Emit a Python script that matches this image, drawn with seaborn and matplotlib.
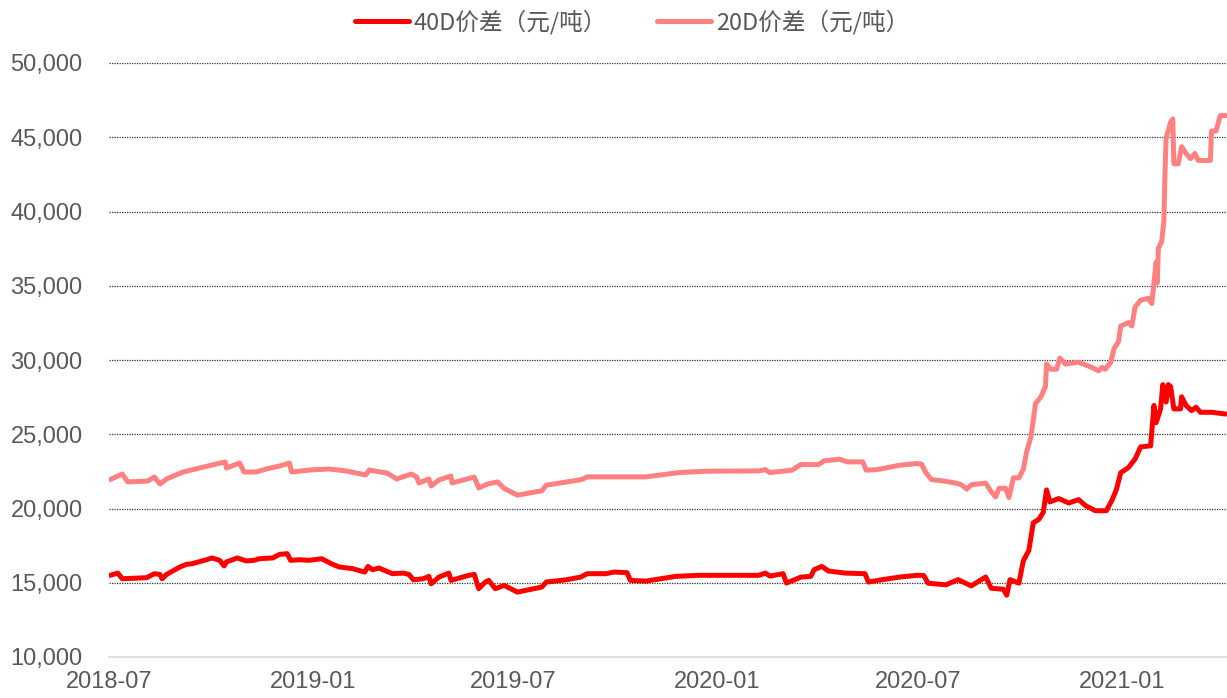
import matplotlib
matplotlib.use("Agg")
import matplotlib.pyplot as plt
import matplotlib.dates as mdates
from matplotlib.ticker import FuncFormatter, MultipleLocator
import pandas as pd
import seaborn as sns

# 40D spread (yuan/ton)
dates_40d = ["2018-07-02", "2018-07-09", "2018-07-13", "2018-08-04", "2018-08-11", "2018-08-16",
             "2018-08-18", "2018-08-22", "2018-09-03", "2018-09-09", "2018-09-14", "2018-09-27",
             "2018-10-02", "2018-10-09", "2018-10-13", "2018-10-15", "2018-10-25", "2018-11-02",
             "2018-11-09", "2018-11-14", "2018-11-26", "2018-12-02", "2018-12-09", "2018-12-12",
             "2018-12-20", "2018-12-29", "2019-01-09", "2019-01-19", "2019-01-25", "2019-02-06",
             "2019-02-17", "2019-02-20", "2019-02-24", "2019-03-02", "2019-03-14", "2019-03-24",
             "2019-03-29", "2019-04-02", "2019-04-11", "2019-04-16", "2019-04-18", "2019-04-25",
             "2019-05-04", "2019-05-06", "2019-05-22", "2019-05-27", "2019-05-31", "2019-06-06",
             "2019-06-09", "2019-06-15", "2019-06-23", "2019-07-05", "2019-07-27", "2019-07-31",
             "2019-08-18", "2019-08-31", "2019-09-06", "2019-09-23", "2019-09-30", "2019-10-12",
             "2019-10-15", "2019-10-29", "2019-11-25", "2019-12-16", "2020-02-08", "2020-02-14",
             "2020-02-18", "2020-03-01", "2020-03-04", "2020-03-10", "2020-03-17", "2020-03-26",
             "2020-03-29", "2020-04-05", "2020-04-11", "2020-04-26", "2020-05-14", "2020-05-17",
             "2020-05-29", "2020-06-14", "2020-06-30", "2020-07-06", "2020-07-10", "2020-07-26",
             "2020-08-06", "2020-08-18", "2020-08-31", "2020-09-05", "2020-09-16", "2020-09-19",
             "2020-09-22", "2020-09-30", "2020-10-04", "2020-10-09", "2020-10-13", "2020-10-18",
             "2020-10-22", "2020-10-25", "2020-10-28", "2020-11-05", "2020-11-14", "2020-11-23",
             "2020-11-29", "2020-12-08", "2020-12-18", "2020-12-23", "2020-12-27", "2020-12-31",
             "2021-01-07", "2021-01-13", "2021-01-18", "2021-01-27", "2021-01-30", "2021-02-01",
             "2021-02-05", "2021-02-07", "2021-02-10", "2021-02-12", "2021-02-14", "2021-02-17",
             "2021-02-23", "2021-02-24", "2021-02-28", "2021-03-05", "2021-03-09", "2021-03-13",
             "2021-03-23", "2021-04-05"]
spread_40d = [15500, 15650, 15270, 15340, 15610, 15560,
              15270, 15560, 16060, 16240, 16280, 16550,
              16670, 16510, 16130, 16400, 16670, 16470,
              16510, 16620, 16670, 16910, 16960, 16510,
              16550, 16510, 16620, 16240, 16060, 15950,
              15720, 16100, 15880, 15990, 15610, 15650,
              15560, 15200, 15270, 15430, 14930, 15380,
              15650, 15160, 15500, 15560, 14600, 15050,
              15160, 14600, 14820, 14370, 14710, 15050,
              15200, 15380, 15610, 15610, 15720, 15680,
              15160, 15110, 15430, 15500, 15500, 15650,
              15450, 15610, 14980, 15160, 15380, 15430,
              15880, 16100, 15790, 15650, 15610, 15050,
              15200, 15380, 15500, 15490, 14970, 14860,
              15210, 14790, 15390, 14630, 14560, 14160,
              15210, 14970, 16480, 17180, 19040, 19270,
              19740, 21250, 20440, 20670, 20370, 20600,
              20200, 19850, 19850, 20550, 21250, 22410,
              22760, 23340, 24150, 24220, 26940, 25780,
              26710, 28340, 27170, 28340, 28220, 26710,
              26710, 27520, 26940, 26590, 26820, 26480,
              26480, 26360]

# 20D spread (yuan/ton)
dates_20d = ["2018-07-02", "2018-07-13", "2018-07-18", "2018-08-05", "2018-08-11", "2018-08-16",
             "2018-08-22", "2018-09-06", "2018-09-21", "2018-10-06", "2018-10-14", "2018-10-15",
             "2018-10-27", "2018-10-31", "2018-11-11", "2018-11-20", "2018-12-02", "2018-12-11",
             "2018-12-13", "2018-12-29", "2019-01-16", "2019-01-31", "2019-02-18", "2019-02-21",
             "2019-03-09", "2019-03-18", "2019-03-31", "2019-04-05", "2019-04-07", "2019-04-16",
             "2019-04-18", "2019-04-25", "2019-05-06", "2019-05-07", "2019-05-27", "2019-05-31",
             "2019-06-08", "2019-06-17", "2019-06-23", "2019-07-05", "2019-07-27", "2019-07-31",
             "2019-09-01", "2019-09-06", "2019-10-02", "2019-10-29", "2019-11-28", "2019-12-22",
             "2020-02-08", "2020-02-14", "2020-02-18", "2020-03-09", "2020-03-17", "2020-04-02",
             "2020-04-07", "2020-04-21", "2020-04-28", "2020-05-12", "2020-05-15", "2020-05-25",
             "2020-06-14", "2020-06-30", "2020-07-04", "2020-07-08", "2020-07-13", "2020-07-26",
             "2020-08-04", "2020-08-09", "2020-08-14", "2020-08-18", "2020-08-31", "2020-09-05",
             "2020-09-09", "2020-09-12", "2020-09-18", "2020-09-21", "2020-09-25", "2020-09-30",
             "2020-10-04", "2020-10-07", "2020-10-11", "2020-10-15", "2020-10-20", "2020-10-24",
             "2020-10-25", "2020-10-29", "2020-11-03", "2020-11-06", "2020-11-11", "2020-11-23",
             "2020-12-05", "2020-12-11", "2020-12-14", "2020-12-17", "2020-12-22", "2020-12-25",
             "2020-12-29", "2020-12-31", "2021-01-07", "2021-01-10", "2021-01-13", "2021-01-18",
             "2021-01-25", "2021-01-28", "2021-01-30", "2021-02-01", "2021-02-02", "2021-02-03",
             "2021-02-06", "2021-02-08", "2021-02-09", "2021-02-10", "2021-02-14", "2021-02-16",
             "2021-02-17", "2021-02-21", "2021-02-24", "2021-02-28", "2021-03-04", "2021-03-08",
             "2021-03-11", "2021-03-22", "2021-03-23", "2021-03-27", "2021-03-31", "2021-04-05"]
spread_20d = [21950, 22320, 21790, 21850, 22120, 21650,
              21990, 22460, 22730, 23000, 23130, 22730,
              23060, 22460, 22460, 22660, 22860, 23060,
              22460, 22590, 22660, 22530, 22260, 22590,
              22390, 21990, 22320, 22120, 21720, 21990,
              21520, 21920, 22190, 21720, 22120, 21380,
              21650, 21790, 21350, 20900, 21190, 21570,
              21950, 22130, 22130, 22130, 22420, 22510,
              22530, 22620, 22420, 22580, 22960, 22960,
              23210, 23320, 23140, 23140, 22580, 22620,
              22910, 23030, 22990, 22410, 21950, 21830,
              21710, 21600, 21300, 21600, 21710, 21130,
              20780, 21360, 21360, 20740, 22060, 22060,
              22640, 23810, 24850, 27060, 27530, 28220,
              29730, 29380, 29380, 30130, 29730, 29850,
              29500, 29270, 29500, 29380, 29850, 30780,
              31240, 32290, 32520, 32290, 33570, 34030,
              34150, 33800, 35190, 36590, 35190, 37520,
              37980, 39380, 42630, 44950, 46000, 46230,
              43210, 43210, 44370, 43910, 43560, 43910,
              43440, 43440, 45420, 45420, 46460, 46460]

labels = ["40D价差（元/吨）", "20D价差（元/吨）"]
colors = ["#FF0000", "#FF8080"]

df = pd.concat([
    pd.DataFrame({"date": pd.to_datetime(dates_40d), "value": spread_40d, "series": labels[0]}),
    pd.DataFrame({"date": pd.to_datetime(dates_20d), "value": spread_20d, "series": labels[1]}),
])

sns.set_theme(style="white")
plt.rcParams['font.family'] = ['Liberation Sans', 'DejaVu Sans']

fig = plt.figure(figsize=(12.27, 6.98), dpi=100)
ax = fig.add_axes([109 / 1227, 41 / 698, 1118 / 1227, 594 / 698])

sns.lineplot(data=df, x="date", y="value", hue="series", hue_order=labels,
             palette=dict(zip(labels, colors)), linewidth=3.6, estimator=None,
             sort=False, legend=False, ax=ax)

ax.set_xlim(pd.Timestamp("2018-07-01"), pd.Timestamp("2021-04-06"))
ax.set_ylim(10000, 50000)
ax.yaxis.set_major_locator(MultipleLocator(5000))
ax.yaxis.set_major_formatter(FuncFormatter(lambda v, p: f"{v:,.0f}"))
ax.xaxis.set_major_locator(mdates.MonthLocator(bymonth=[1, 7]))
ax.xaxis.set_major_formatter(mdates.DateFormatter("%Y-%m"))
ax.set_xlabel("")
ax.set_ylabel("")

ax.grid(axis="y", color="#333333", linestyle=(0, (1, 1)), linewidth=0.9)
ax.grid(axis="x", visible=False)
for side in ["left", "right", "top"]:
    ax.spines[side].set_visible(False)
ax.spines["bottom"].set_color("#d9d9d9")
ax.spines["bottom"].set_linewidth(1.2)

ax.tick_params(axis="y", length=0, pad=19, labelsize=17, labelcolor="#595959")
ax.tick_params(axis="x", direction="out", length=5, width=1.2, color="#d9d9d9",
               pad=5, labelsize=17, labelcolor="#595959")
ax.set_axisbelow(True)

fig.legend(handles=ax.lines[:2], labels=labels, loc="center",
           bbox_to_anchor=(632 / 1227, 1 - 22 / 698), ncol=2, frameon=False,
           handlelength=2.3, handletextpad=0.2, columnspacing=2.1,
           prop={"family": ["Noto Sans CJK SC", "DejaVu Sans"], "size": 17},
           labelcolor="#595959")

fig.savefig("out.png", dpi=100)
